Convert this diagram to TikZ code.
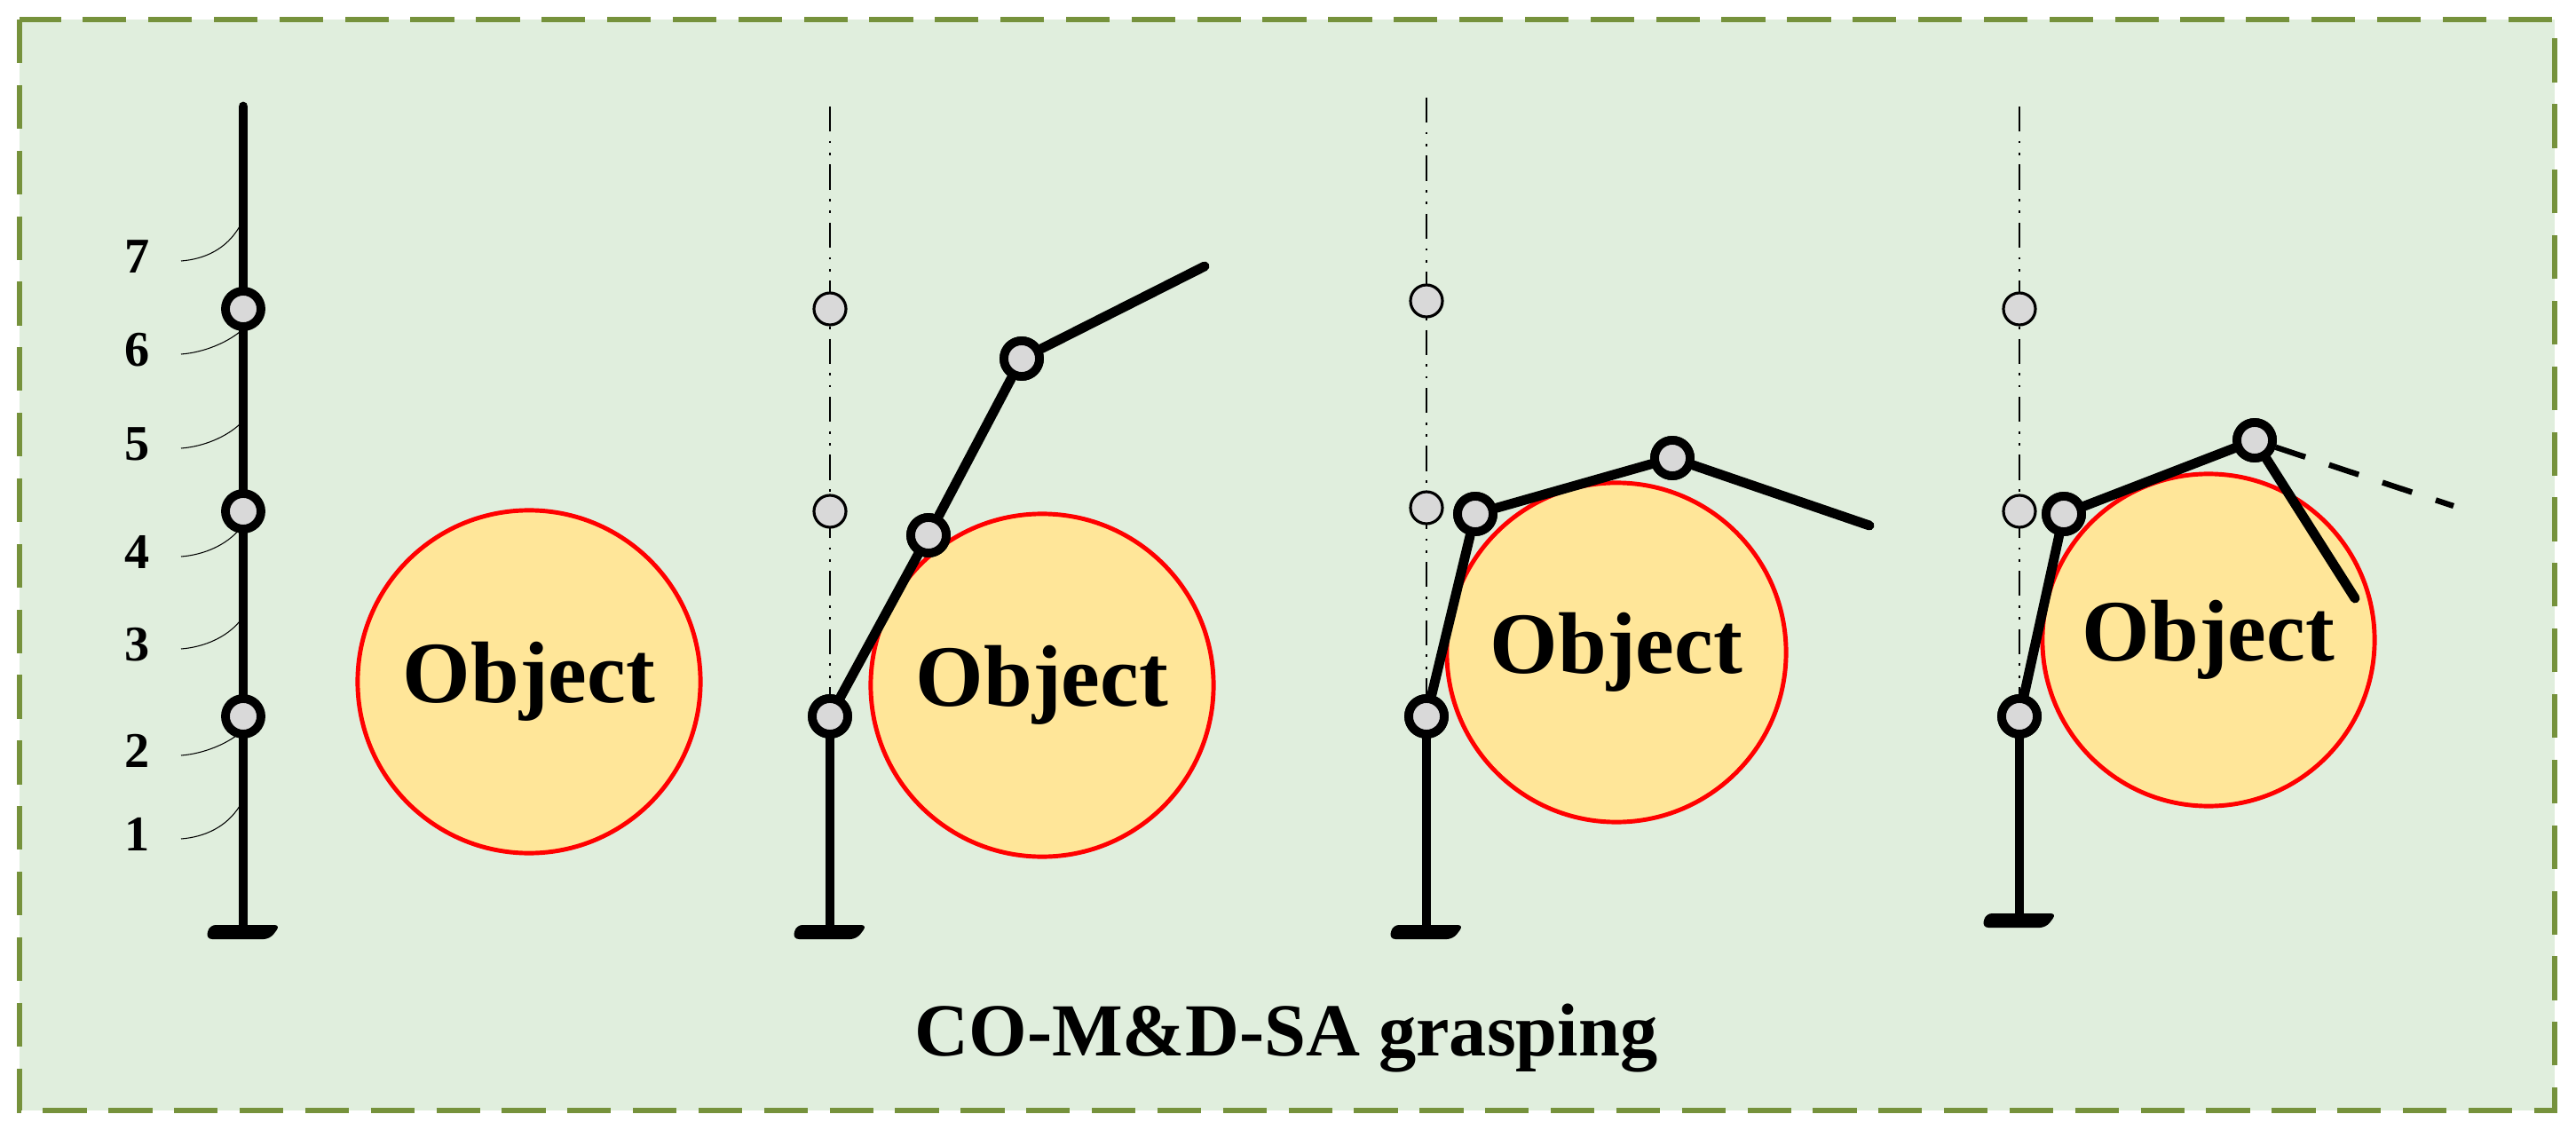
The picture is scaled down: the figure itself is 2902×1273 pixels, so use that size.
\documentclass[tikz,border=0pt]{standalone}
\usepackage{fontspec}
\setmainfont{Liberation Serif}
\definecolor{bg}{HTML}{E0EEDD}
\definecolor{frame}{HTML}{76923C}
\definecolor{obj}{HTML}{FFE699}
\definecolor{jnt}{HTML}{D9D9D9}
\begin{document}
\begin{tikzpicture}[x=0.01cm,y=-0.01cm,
  link/.style={line width=3.1pt,line cap=round},
  joint/.style={circle,draw,fill=jnt,line width=2.8pt,minimum size=0.40cm,inner sep=0pt},
  ghost/.style={circle,draw,fill=jnt,line width=0.9pt,minimum size=0.36cm,inner sep=0pt},
  object/.style={circle,draw=red,line width=1.4pt,fill=obj,minimum size=#1,inner sep=0pt,font=\bfseries\fontsize{28}{32}\selectfont},
  axisline/.style={line width=0.8pt,dash pattern=on 8pt off 3pt on 0.8pt off 3pt on 0.8pt off 3pt},
  lbl/.style={font=\bfseries\fontsize{16}{18}\selectfont},
  leader/.style={line width=0.3pt}]
\useasboundingbox (0,0) rectangle (2902,1273);
\draw[fill=bg,draw=frame,line width=1.6pt,dash pattern=on 14pt off 7pt] (22,22) rectangle (2878,1251);
\tikzset{base/.pic={\fill[rounded corners=2pt] (-38,-8) -- (42,-8) -- (30,8) -- (-42,8) -- cycle;}}

% Panel 1
\coordinate (p1t) at (274,120); \coordinate (p1b) at (274,1050);
\draw[link] (p1t) -- (p1b);
\pic at (274,1050) {base};
\node[joint] (a1) at (274,348) {};
\node[joint] (a2) at (274,576) {};
\node[joint] (a3) at (274,807) {};
\foreach \n/\y/\py in {7/289/255,6/394/374,5/500/478,4/622/596,3/726/700,2/846/826,1/940/908}{
  \node[lbl] (l\n) at (155,\y) {\n};
  \draw[leader] (204,\y+5) .. controls (230,\y+3) and (255,\y-8) .. (270,\py);
}
\node[object=3.86cm] (o1) at (596,768) {Object};

% Panel 2
\draw[axisline] (935,120) -- (935,807);
\node[ghost] (g21) at (935,348) {};
\node[ghost] (g22) at (935,576) {};
\node[object=3.86cm] (o2) at (1174,772) {Object};
\coordinate (b2) at (935,1050);
\draw[link] (b2) -- (935,807);
\pic at (b2) {base};
\coordinate (e2) at (1357,300);
\node[joint] (j21) at (935,807) {};
\node[joint] (j22) at (1046,603) {};
\node[joint] (j23) at (1151,404) {};
\draw[link] (j21) -- (j22); \draw[link] (j22) -- (j23); \draw[link] (j23) -- (e2);
\node[joint] at (935,807) {}; \node[joint] at (1046,603) {}; \node[joint] at (1151,404) {};

% Panel 3
\draw[axisline] (1607,110) -- (1607,807);
\node[ghost] (g31) at (1607,339) {};
\node[ghost] (g32) at (1607,572) {};
\node[object=3.82cm] (o3) at (1821,735) {Object};
\coordinate (b3) at (1607,1050);
\draw[link] (b3) -- (1607,807);
\pic at (b3) {base};
\coordinate (e3) at (2106,592);
\node[joint] (j31) at (1607,807) {};
\node[joint] (j32) at (1662,579) {};
\node[joint] (j33) at (1884,516) {};
\draw[link] (j31) -- (j32); \draw[link] (j32) -- (j33); \draw[link] (j33) -- (e3);
\node[joint] at (1607,807) {}; \node[joint] at (1662,579) {}; \node[joint] at (1884,516) {};

% Panel 4
\draw[axisline] (2275,120) -- (2275,807);
\node[ghost] (g41) at (2275,348) {};
\node[ghost] (g42) at (2275,576) {};
\node[object=3.74cm] (o4) at (2488,721) {Object};
\coordinate (b4) at (2275,1037);
\draw[link] (b4) -- (2275,807);
\pic at (b4) {base};
\coordinate (e4) at (2653,674);
\coordinate (d4) at (2764,570);
\node[joint] (j41) at (2275,807) {};
\node[joint] (j42) at (2325,579) {};
\node[joint] (j43) at (2540,496) {};
\draw[link] (j41) -- (j42); \draw[link] (j42) -- (j43); \draw[link] (j43) -- (e4);
\draw[line width=1.8pt,dash pattern=on 10pt off 8pt] (j43) -- (d4);
\node[joint] at (2275,807) {}; \node[joint] at (2325,579) {}; \node[joint] at (2540,496) {};

\node[font=\bfseries\fontsize{24}{28}\selectfont] (title) at (1449,1170) {CO-M\&D-SA grasping};
\end{tikzpicture}
\end{document}
